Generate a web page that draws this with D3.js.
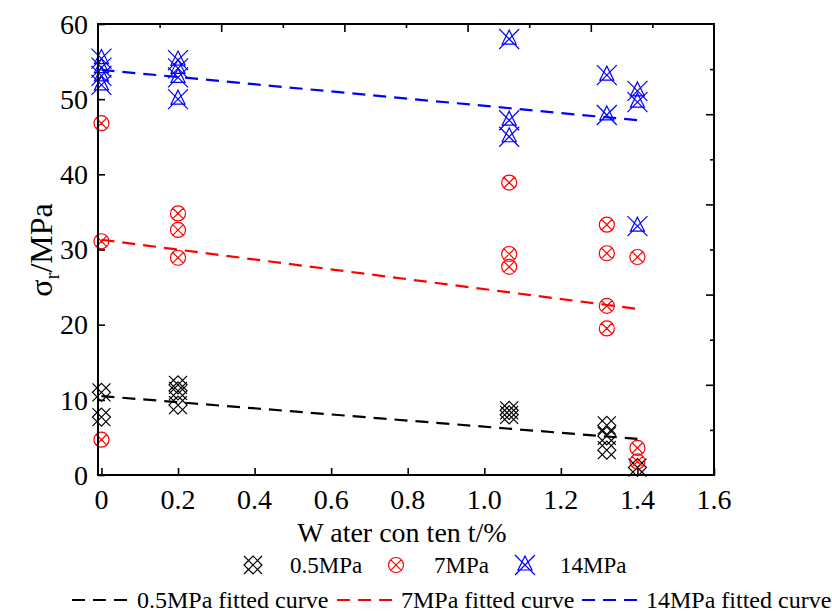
<!DOCTYPE html>
<html>
<head>
<meta charset="utf-8">
<script src="https://cdn.jsdelivr.net/npm/d3@7"></script>
<style>
  body { margin: 0; background: #fff; }
  text { font-family: "Liberation Serif", "DejaVu Serif", serif; fill: #000; }
</style>
</head>
<body>
<div id="chart"></div>
<script>
// water content (%) and strength (MPa)
var blackX = [0, 0, 0.2, 0.2, 0.2, 1.065, 1.065, 1.32, 1.32, 1.32, 1.40];
var blackY = [11.0, 7.7, 12.0, 11.2, 9.3, 8.6, 8.0, 6.6, 5.2, 3.3, 1.0];

var redX = [0, 0, 0, 0.2, 0.2, 0.2, 1.065, 1.065, 1.065, 1.32, 1.32, 1.32, 1.32, 1.40, 1.40, 1.40];
var redY = [46.8, 31.1, 4.7, 34.8, 32.6, 28.9, 38.9, 29.4, 27.7, 33.3, 29.5, 22.5, 19.5, 29.0, 3.6, 1.8];

var blueX = [0, 0, 0, 0, 0.2, 0.2, 0.2, 0.2, 1.065, 1.065, 1.065, 1.32, 1.32, 1.40, 1.40, 1.40];
var blueY = [55.4, 54.2, 53.1, 51.9, 55.2, 54.1, 52.9, 50.0, 58.0, 47.2, 45.0, 53.2, 47.9, 51.1, 49.6, 33.1];

// fitted lines, end points
var fitX = [0, 1.40];
var fitBlack = [10.5, 4.8];
var fitRed = [31.3, 22.1];
var fitBlue = [53.9, 47.2];

var xTicks = [0, 0.2, 0.4, 0.6, 0.8, 1.0, 1.2, 1.4, 1.6];
var xTickLabels = ["0", "0.2", "0.4", "0.6", "0.8", "1.0", "1.2", "1.4", "1.6"];
var yTicks = [0, 10, 20, 30, 40, 50, 60];

var seriesNames = ["0.5MPa", "7MPa", "14MPa"];
var fitNames = ["0.5MPa fitted curve", "7MPa fitted curve", "14MPa fitted curve"];
var colors = ["#000000", "#ff0000", "#0000ff"];

var W = 832, H = 612;
var pLeft = 98, pRight = 714, pTop = 24, pBottom = 475;

var svg = d3.select("#chart").append("svg")
    .attr("width", W)
    .attr("height", H);

var x = d3.scaleLinear().domain([-0.009, 1.6]).range([pLeft, pRight]);
var y = d3.scaleLinear().domain([0, 60]).range([pBottom, pTop]);

// marker shapes
function markerPath(kind){
    var p = d3.path();
    if (kind == 0){
        var s = 9;
        p.moveTo(-s, -s); p.lineTo(s, s);
        p.moveTo(s, -s); p.lineTo(-s, s);
        p.moveTo(0, -s); p.lineTo(s, 0); p.lineTo(0, s); p.lineTo(-s, 0); p.closePath();
    } else if (kind == 1){
        var r = 7.5, c = r * 0.72;
        p.moveTo(r, 0); p.arc(0, 0, r, 0, 2 * Math.PI);
        p.moveTo(-c, -c); p.lineTo(c, c);
        p.moveTo(c, -c); p.lineTo(-c, c);
    } else {
        var s = 10;
        p.moveTo(-s, -s); p.lineTo(s, s);
        p.moveTo(s, -s); p.lineTo(-s, s);
        p.moveTo(0, -9); p.lineTo(7, 5); p.lineTo(-7, 5); p.closePath();
    }
    return p.toString();
}

var allSeries = [
    { xs: blackX, ys: blackY },
    { xs: redX, ys: redY },
    { xs: blueX, ys: blueY }
];

allSeries.forEach(function(s, k){
    svg.append("g")
        .selectAll("path")
        .data(s.xs.map(function(d, i){ return [d, s.ys[i]]; }))
        .enter()
        .append("path")
            .attr("d", markerPath(k))
            .attr("transform", function(d){ return "translate(" + x(d[0]) + "," + y(d[1]) + ")"; })
            .attr("fill", "none")
            .attr("stroke", colors[k])
            .attr("stroke-width", 1.2);
});

// fitted lines
var fits = [fitBlack, fitRed, fitBlue];
var line = d3.line()
    .x(function(d){ return x(d[0]); })
    .y(function(d){ return y(d[1]); });

fits.forEach(function(f, k){
    svg.append("path")
        .datum(fitX.map(function(d, i){ return [d, f[i]]; }))
        .attr("d", line)
        .attr("fill", "none")
        .attr("stroke", colors[k])
        .attr("stroke-width", 2.2)
        .attr("stroke-dasharray", "13,8");
});

// axes
var xAxis = d3.axisBottom(x).tickValues(xTicks).tickSizeInner(-7).tickSizeOuter(0).tickFormat("");
var yAxis = d3.axisLeft(y).tickValues(yTicks).tickSizeInner(-7).tickSizeOuter(0).tickFormat("");

svg.append("g")
    .attr("transform", "translate(0," + pBottom + ")")
    .call(xAxis);

svg.append("g")
    .attr("transform", "translate(" + pLeft + ",0)")
    .call(yAxis);

// top and right axes: ten divisions, alternating tick length
var topScale = d3.scaleLinear().domain([0, 10]).range([pLeft, pRight]);
var rightScale = d3.scaleLinear().domain([0, 10]).range([pTop, pBottom]);
var odd = [1, 3, 5, 7, 9], even = [2, 4, 6, 8];

svg.append("g").attr("transform", "translate(0," + pTop + ")")
    .call(d3.axisTop(topScale).tickValues(odd).tickSizeInner(-4).tickSizeOuter(0).tickFormat(""));
svg.append("g").attr("transform", "translate(0," + pTop + ")")
    .call(d3.axisTop(topScale).tickValues(even).tickSizeInner(-8).tickSizeOuter(0).tickFormat(""));
svg.append("g").attr("transform", "translate(" + pRight + ",0)")
    .call(d3.axisRight(rightScale).tickValues(odd).tickSizeInner(-4).tickSizeOuter(0).tickFormat(""));
svg.append("g").attr("transform", "translate(" + pRight + ",0)")
    .call(d3.axisRight(rightScale).tickValues(even).tickSizeInner(-8).tickSizeOuter(0).tickFormat(""));

svg.selectAll(".domain").remove();
svg.selectAll(".tick line").attr("stroke", "#000").attr("stroke-width", 1.6);

svg.append("rect")
    .attr("x", pLeft).attr("y", pTop)
    .attr("width", pRight - pLeft).attr("height", pBottom - pTop)
    .attr("fill", "none")
    .attr("stroke", "#000")
    .attr("stroke-width", 2);

// tick labels
svg.append("g").selectAll("text")
    .data(xTicks)
    .enter().append("text")
        .attr("x", function(d){ return x(d); })
        .attr("y", 509)
        .attr("text-anchor", "middle")
        .style("font-size", "28px")
        .text(function(d, i){ return xTickLabels[i]; });

svg.append("g").selectAll("text")
    .data(yTicks)
    .enter().append("text")
        .attr("x", 88)
        .attr("y", function(d){ return y(d); })
        .attr("dy", "0.35em")
        .attr("text-anchor", "end")
        .style("font-size", "28px")
        .text(function(d){ return d; });

// axis titles
svg.append("text")
    .attr("x", 402)
    .attr("y", 542)
    .attr("text-anchor", "middle")
    .style("font-size", "28px")
    .text("W ater con ten t/%");

var yt = svg.append("text")
    .attr("transform", "translate(52,250) rotate(-90)")
    .attr("text-anchor", "middle")
    .style("font-size", "32px");
yt.append("tspan").text("σ");
yt.append("tspan").attr("dy", 7).style("font-size", "21px").text("r");
yt.append("tspan").attr("dy", -7).text("/MPa");

// legend, markers row
var legMarkX = [253, 396, 525];
var legTextX = [290, 434, 560];
seriesNames.forEach(function(name, k){
    svg.append("path")
        .attr("d", markerPath(k))
        .attr("transform", "translate(" + legMarkX[k] + ",565)")
        .attr("fill", "none")
        .attr("stroke", colors[k])
        .attr("stroke-width", 1.2);
    svg.append("text")
        .attr("x", legTextX[k])
        .attr("y", 573)
        .style("font-size", "23px")
        .text(name);
});

// legend, fitted curves row
var legLineX = [72, 337, 582];
var legFitTextX = [137, 401, 646];
fitNames.forEach(function(name, k){
    svg.append("line")
        .attr("x1", legLineX[k]).attr("x2", legLineX[k] + 60)
        .attr("y1", 600).attr("y2", 600)
        .attr("stroke", colors[k])
        .attr("stroke-width", 2.2)
        .attr("stroke-dasharray", "13,8");
    svg.append("text")
        .attr("x", legFitTextX[k])
        .attr("y", 608)
        .style("font-size", "24px")
        .text(name);
});
</script>
</body>
</html>
